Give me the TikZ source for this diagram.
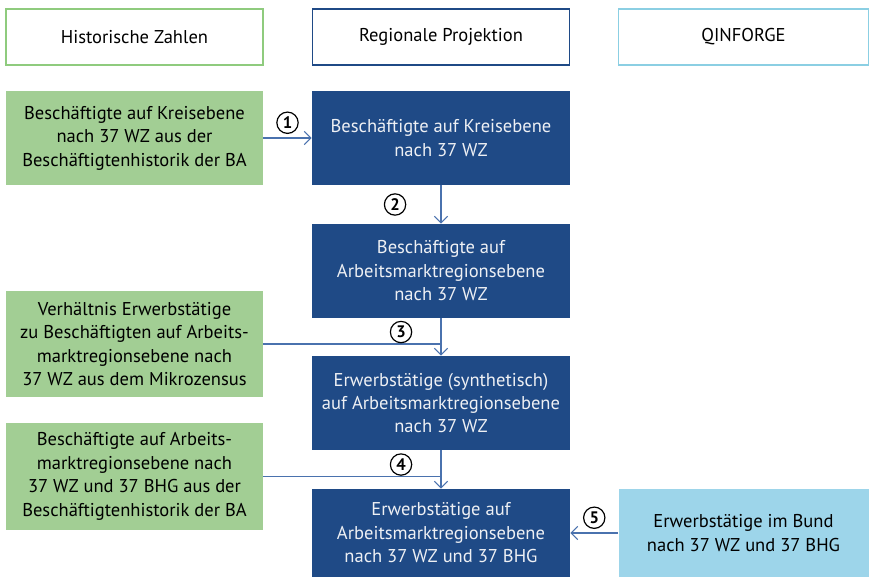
\documentclass[tikz,border=0pt]{standalone}
\usepackage{fontspec}
\setmainfont{PT Sans}
\usepackage{tikz}
\usetikzlibrary{positioning}
\usetikzlibrary{arrows.meta}
\definecolor{histgreen}{HTML}{A2CE94}
\definecolor{histline}{HTML}{8FCB7E}
\definecolor{projblue}{HTML}{1F4A86}
\definecolor{qinblue}{HTML}{9DD5EA}
\definecolor{qinline}{HTML}{8BCFE3}
\definecolor{arrowblue}{HTML}{4A72AE}
\definecolor{boxtext}{HTML}{EEF0F4}
\tikzstyle{head}=[draw,rectangle,fill=white,line width=0.8pt,minimum width=192.75pt,minimum height=42pt,inner sep=2pt,align=center,font=\fontsize{13.9}{18}\selectfont]
\tikzstyle{hist}=[rectangle,fill=histgreen,minimum width=192.75pt,align=center,inner sep=2pt,font=\fontsize{13.9}{17.6}\selectfont]
\tikzstyle{proj}=[rectangle,fill=projblue,text=boxtext,minimum width=193.5pt,minimum height=70.5pt,align=center,inner sep=2pt,font=\fontsize{13.9}{17.6}\selectfont]
\tikzstyle{qin}=[rectangle,fill=qinblue,minimum width=187.5pt,align=center,inner sep=2pt,font=\fontsize{13.9}{17.6}\selectfont]
\tikzstyle{num}=[draw=black,text=black,circle,line width=0.9pt,minimum size=16pt,inner sep=0pt,font=\fontsize{12.5}{12.5}\selectfont\bfseries]
\begin{document}
\begin{tikzpicture}[x=0.75pt,y=-0.75pt,>={Straight Barb[length=5pt,width=10pt]}]
    \useasboundingbox (0,0) rectangle (869,578);
    % column heads
    \node [head, draw=histline] (H) at (134.5,37) {Historische Zahlen};
    \node [head, draw=projblue] (P) at (441,37) {Regionale Projektion};
    \node [head, draw=qinline, minimum width=187.5pt] (Q) at (743.5,37) {QINFORGE};

    % projection chain
    \node [proj] (KR)  at (441,138) {Beschäftigte auf Kreisebene\\nach 37 WZ};
    \node [proj] (AMR) at (441,271) {Beschäftigte auf\\Arbeitsmarktregionsebene\\nach 37 WZ};
    \node [proj] (SYN) at (441,403) {Erwerbstätige (synthetisch)\\auf Arbeitsmarktregionsebene\\nach 37 WZ};
    \node [proj, minimum height=66pt] (BHG) at (441,533) {Erwerbstätige auf\\Arbeitsmarktregionsebene\\nach 37 WZ und 37 BHG};

    % inputs
    \node [hist, minimum height=70.5pt] (KBA) at (134.5,138) {Beschäftigte auf Kreisebene\\nach 37 WZ aus der\\Beschäftigtenhistorik der BA};
    \node [hist, minimum height=79.5pt] (MZ) at (134.5,344) {Verhältnis Erwerbstätige\\zu Beschäftigten auf Arbeits-\\marktregionsebene nach\\37 WZ aus dem Mikrozensus};
    \node [hist, minimum height=80pt] (BBA) at (134.5,476.5) {Beschäftigte auf Arbeits-\\marktregionsebene nach\\37 WZ und 37 BHG aus der\\Beschäftigtenhistorik der BA};
    \node [qin, minimum height=66pt] (BUND) at (743.5,533) {Erwerbstätige im Bund\\nach 37 WZ und 37 BHG};

    \coordinate (J3) at (AMR.south |- MZ.east);
    \coordinate (J4) at (SYN.south |- BBA.east);

    \path [->, draw=arrowblue, line width=0.8pt]
        (KBA) edge node [num, above=3pt, pos=0.5] (N1) {1} (KR)
        (KR)  edge node [num, left=26pt, pos=0.5] (N2) {2} (AMR)
        (AMR) edge (SYN)
        (SYN) edge (BHG)
        (BUND) edge node [num, above=3pt, pos=0.5] (N5) {5} (BHG);
    \draw [arrowblue, line width=0.8pt] (MZ.east) -- (J3);
    \draw [arrowblue, line width=0.8pt] (BBA.east) -- (J4);
    \node [num, above left=3pt and 24pt] (N3) at (J3) {3};
    \node [num, above left=3pt and 24pt] (N4) at (J4) {4};
\end{tikzpicture}
\end{document}
